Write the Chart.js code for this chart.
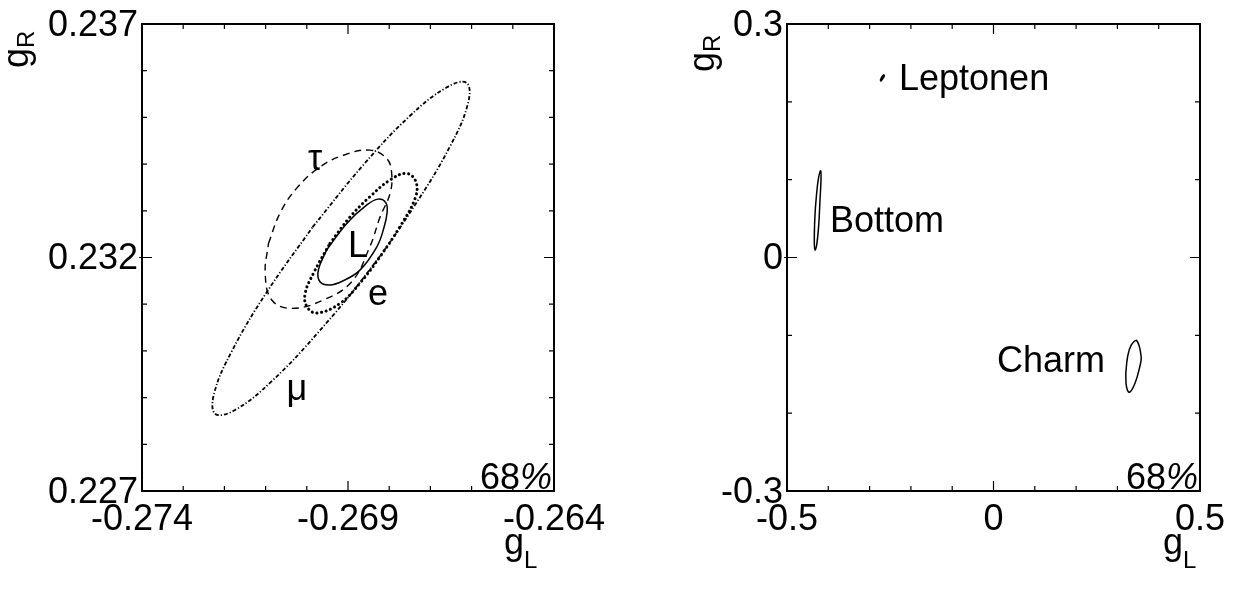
<!DOCTYPE html>
<html>
<head>
<meta charset="utf-8">
<script src="https://cdn.jsdelivr.net/npm/chart.js@4/dist/chart.umd.min.js"></script>
<style>
  html, body { margin: 0; padding: 0; background: #fff; }
  #wrap { position: relative; width: 1234px; height: 592px; }
  canvas { position: absolute; top: 0; }
</style>
</head>
<body>
<div id="wrap">
  <canvas id="left" width="617" height="592" style="left:0"></canvas>
  <canvas id="right" width="617" height="592" style="left:617px"></canvas>
</div>
<script>
// ---- left panel: 68% contours in the (gL, gR) plane ----
var leftXTicks = [-0.274, -0.269, -0.264];
var leftYTicks = [0.227, 0.232, 0.237];

var muGL = [-0.26986, -0.26863, -0.26750, -0.26661, -0.26612, -0.26609, -0.26653, -0.26737,
            -0.26848, -0.26971, -0.27084, -0.27173, -0.27222, -0.27225, -0.27181, -0.27097];
var muGR = [0.23265, 0.23398, 0.23503, 0.23564, 0.23574, 0.23529, 0.23437, 0.23313,
            0.23173, 0.23041, 0.22936, 0.22874, 0.22865, 0.22909, 0.23001, 0.23126];

var tauGL = [-0.27093, -0.27065, -0.27025, -0.26968, -0.26911, -0.26847, -0.26806, -0.26794,
             -0.26798, -0.26822, -0.26847, -0.26891, -0.26960, -0.27037, -0.27085, -0.27101];
var tauGR = [0.23230, 0.23295, 0.23348, 0.23394, 0.23419, 0.23430, 0.23412, 0.23380,
             0.23337, 0.23287, 0.23223, 0.23148, 0.23109, 0.23091, 0.23109, 0.23166];

var eGL = [-0.26944, -0.26895, -0.26847, -0.26798, -0.26758, -0.26735, -0.26737, -0.26774,
           -0.26822, -0.26871, -0.26919, -0.26976, -0.27000, -0.27004, -0.26984];
var eGR = [0.23230, 0.23287, 0.23330, 0.23366, 0.23380, 0.23362, 0.23327, 0.23266,
           0.23202, 0.23145, 0.23102, 0.23081, 0.23095, 0.23123, 0.23166];

var lepGL = [-0.26952, -0.26903, -0.26855, -0.26827, -0.26808, -0.26805, -0.26813,
             -0.26830, -0.26871, -0.26912, -0.26944, -0.26968, -0.26972];
var lepGR = [0.23216, 0.23273, 0.23312, 0.23325, 0.23317, 0.23297, 0.23263,
             0.23223, 0.23173, 0.23150, 0.23141, 0.23148, 0.23173];

var leftNames = ['τ', 'L', 'e', 'μ'];
var leftNameGL = [-0.26980, -0.26876, -0.26827, -0.27024];
var leftNameGR = [0.23409, 0.23222, 0.23120, 0.22916];

// ---- right panel: leptons, bottom and charm ----
var rightXTicks = [-0.5, 0, 0.5];
var rightYTicks = [-0.3, 0, 0.3];

var leptonenGL = [-0.2651, -0.2646, -0.2688, -0.2724, -0.2736, -0.2705];
var leptonenGR = [0.2351, 0.2332, 0.2293, 0.2268, 0.2281, 0.2319];

var bottomGL = [-0.4201, -0.4232, -0.4281, -0.4322, -0.4339, -0.4322, -0.4286, -0.4237, -0.4184, -0.4177];
var bottomGR = [0.0739, 0.0418, 0.0161, 0.0096, 0.0225, 0.0546, 0.0803, 0.1021, 0.1115, 0.0996];

var charmGL = [0.3203, 0.3247, 0.3337, 0.3470, 0.3576, 0.3542, 0.3426, 0.3293, 0.3220];
var charmGR = [-0.1488, -0.1275, -0.1124, -0.1069, -0.1275, -0.1403, -0.1616, -0.1732, -0.1660];

var rightNames = ['Leptonen', 'Bottom', 'Charm'];
var rightNameGL = [-0.2288, -0.396, 0.270];
var rightNameGR = [0.228, 0.0456, -0.134];

var FAMILY = '"Liberation Sans", Arial, sans-serif';
var FONT = '36px ' + FAMILY;
var SUB = '24px ' + FAMILY;

function loop(gl, gr) {
  var pts = gl.map(function (v, i) { return { x: v, y: gr[i] }; });
  pts.push(pts[0]);
  return pts;
}

function contour(gl, gr, width, dash, cap) {
  return {
    data: loop(gl, gr),
    showLine: true,
    borderColor: '#000',
    borderWidth: width,
    borderDash: dash,
    borderCapStyle: cap || 'butt',
    pointRadius: 0,
    tension: 0.4,
    fill: false
  };
}

// frame, inward ticks, tick labels, titles and contour names
var ink = {
  id: 'ink',
  afterDatasetsDraw: function (chart, args, o) {
    var ctx = chart.ctx, a = chart.chartArea, xs = chart.scales.x, ys = chart.scales.y;
    ctx.save();
    ctx.fillStyle = '#000';
    ctx.strokeStyle = '#000';

    ctx.lineWidth = 2;
    ctx.strokeRect(a.left, a.top, a.right - a.left, a.bottom - a.top);

    ctx.lineWidth = 1.2;
    ctx.beginPath();
    var i, p, len;
    for (i = 1; i < o.nx; i++) {
      p = xs.getPixelForValue(xs.min + i * (xs.max - xs.min) / o.nx);
      len = (2 * i === o.nx) ? 10 : 5;
      ctx.moveTo(p, a.bottom); ctx.lineTo(p, a.bottom - len);
      ctx.moveTo(p, a.top); ctx.lineTo(p, a.top + len);
    }
    for (i = 1; i < o.ny; i++) {
      p = ys.getPixelForValue(ys.min + i * (ys.max - ys.min) / o.ny);
      len = (2 * i === o.ny) ? 10 : 5;
      ctx.moveTo(a.left - ((2 * i === o.ny) ? 3 : 0), p); ctx.lineTo(a.left + len, p);
      ctx.moveTo(a.right, p); ctx.lineTo(a.right - len, p);
    }
    ctx.stroke();

    ctx.font = FONT;
    ctx.textAlign = 'right';
    ctx.textBaseline = 'middle';
    o.yTicks.forEach(function (v) {
      ctx.fillText(String(v), a.left - 4, ys.getPixelForValue(v) + 2);
    });
    ctx.textAlign = 'center';
    o.xTicks.forEach(function (v) {
      ctx.fillText(String(v), xs.getPixelForValue(v), a.bottom + 29);
    });

    // 68% in the lower right corner
    ctx.textBaseline = 'alphabetic';
    ctx.textAlign = 'right';
    ctx.font = 'italic ' + FONT;
    var pw = ctx.measureText('%').width;
    ctx.fillText('%', a.right - 2, a.bottom - 2);
    ctx.font = FONT;
    ctx.fillText('68', a.right - 2 - pw, a.bottom - 2);

    // gL title
    ctx.textAlign = 'left';
    ctx.font = FONT;
    var gw = ctx.measureText('g').width;
    ctx.fillText('g', o.gL, a.bottom + 63);
    ctx.font = SUB;
    ctx.fillText('L', o.gL + gw, a.bottom + 77);

    // gR title, rotated
    ctx.save();
    ctx.translate(o.gR[0], o.gR[1]);
    ctx.rotate(-Math.PI / 2);
    ctx.font = FONT;
    ctx.fillText('g', 0, 0);
    ctx.font = SUB;
    ctx.fillText('R', gw, 6);
    ctx.restore();

    // contour names
    ctx.font = FONT;
    ctx.textBaseline = 'middle';
    o.names.forEach(function (t, k) {
      ctx.textAlign = o.align[k];
      ctx.fillText(t, xs.getPixelForValue(o.nameX[k]), ys.getPixelForValue(o.nameY[k]));
    });
    ctx.restore();
  }
};

new Chart(document.getElementById('left'), {
  type: 'scatter',
  data: {
    datasets: [
      contour(muGL, muGR, 1.8, [4, 2, 1.2, 2]),
      contour(tauGL, tauGR, 1.4, [7, 5]),
      contour(eGL, eGR, 3, [0.1, 4.6], 'round'),
      contour(lepGL, lepGR, 1.5, [])
    ]
  },
  options: {
    responsive: false,
    animation: false,
    layout: { padding: { left: 142, right: 63, top: 24, bottom: 101 } },
    scales: {
      x: { type: 'linear', min: -0.274, max: -0.264, display: false },
      y: { type: 'linear', min: 0.227, max: 0.237, display: false }
    },
    plugins: {
      legend: { display: false },
      tooltip: { enabled: false },
      ink: {
        nx: 10, ny: 10,
        xTicks: leftXTicks, yTicks: leftYTicks,
        gL: 504, gR: [28, 68],
        names: leftNames, nameX: leftNameGL, nameY: leftNameGR,
        align: ['center', 'center', 'center', 'center']
      }
    }
  },
  plugins: [ink]
});

new Chart(document.getElementById('right'), {
  type: 'scatter',
  data: {
    datasets: [
      contour(leptonenGL, leptonenGR, 1.5, []),
      contour(bottomGL, bottomGR, 1.5, []),
      contour(charmGL, charmGR, 1.5, [])
    ]
  },
  options: {
    responsive: false,
    animation: false,
    layout: { padding: { left: 170, right: 34, top: 24, bottom: 101 } },
    scales: {
      x: { type: 'linear', min: -0.5, max: 0.5, display: false },
      y: { type: 'linear', min: -0.3, max: 0.3, display: false }
    },
    plugins: {
      legend: { display: false },
      tooltip: { enabled: false },
      ink: {
        nx: 10, ny: 6,
        xTicks: rightXTicks, yTicks: rightYTicks,
        gL: 546, gR: [97, 72],
        names: rightNames, nameX: rightNameGL, nameY: rightNameGR,
        align: ['left', 'left', 'right']
      }
    }
  },
  plugins: [ink]
});
</script>
</body>
</html>
